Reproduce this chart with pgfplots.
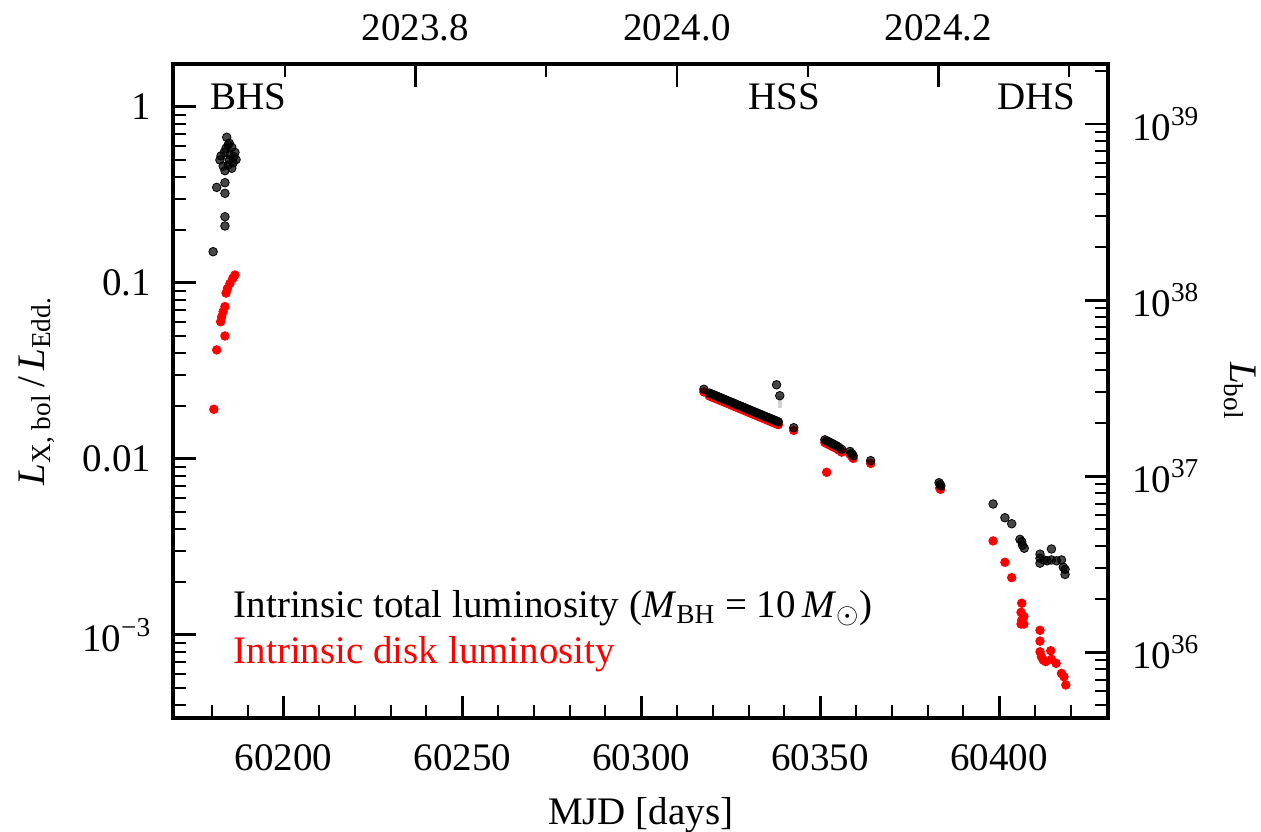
\documentclass[border=0pt]{standalone}
\usepackage{fontspec}
\setmainfont{Liberation Serif}
\usepackage{pgfplots}
\pgfplotsset{compat=1.18}

\pgfplotstableread{
x y
60180.4 0.150
60181.4 0.348
60183.7 0.322
60183.7 0.370
60183.7 0.237
60183.7 0.210
60183.7 0.433
60184.2 0.670
60184.6 0.606
60185.6 0.588
60182.6 0.525
60186.2 0.520
60182.3 0.498
60184.6 0.466
60185.6 0.447
60183.5 0.550
60185.0 0.500
60186.0 0.480
60186.5 0.550
60184.0 0.580
60185.2 0.530
60186.8 0.500
60183.2 0.460
60184.9 0.620
60317.5 0.02480
60319.0 0.02360
60319.5 0.02337
60320.0 0.02314
60320.5 0.02292
60321.0 0.02270
60321.5 0.02248
60322.0 0.02226
60322.5 0.02204
60323.0 0.02183
60323.5 0.02162
60324.0 0.02141
60324.5 0.02120
60325.0 0.02099
60325.5 0.02079
60326.0 0.02059
60326.5 0.02039
60327.0 0.02019
60327.5 0.01999
60328.0 0.01980
60328.5 0.01961
60329.0 0.01942
60329.5 0.01923
60330.0 0.01904
60330.5 0.01886
60331.0 0.01867
60331.5 0.01849
60332.0 0.01831
60332.5 0.01813
60333.0 0.01796
60333.5 0.01778
60334.0 0.01761
60334.5 0.01744
60335.0 0.01727
60335.5 0.01710
60336.0 0.01694
60336.5 0.01677
60337.0 0.01661
60337.5 0.01645
60338.0 0.01629
60338.3 0.01620
60337.8 0.0263
60338.7 0.0228
60342.6 0.0150
60351.3 0.01280
60351.8 0.01265
60352.3 0.01250
60352.8 0.01235
60353.3 0.01220
60353.8 0.01205
60354.5 0.01185
60355.2 0.01160
60356.0 0.01130
60358.3 0.01100
60358.8 0.01070
60359.2 0.01040
60364.1 0.00975
60383.2 0.00730
60383.5 0.00712
60383.7 0.00700
60398.3 0.00553
60401.6 0.00462
60403.5 0.00427
60405.8 0.00348
60406.3 0.00338
60406.5 0.00323
60407.0 0.00310
60411.4 0.00287
60411.4 0.00272
60411.4 0.00255
60412.5 0.00266
60413.4 0.00263
60414.6 0.00307
60414.6 0.00266
60416.0 0.00263
60417.4 0.00266
60417.9 0.00242
60418.4 0.00235
60418.4 0.00220
}\totaldata

\pgfplotstableread{
x y
60180.6 0.0191
60181.4 0.0415
60183.7 0.0498
60182.5 0.0600
60182.8 0.0640
60183.2 0.0685
60183.7 0.0732
60184.0 0.0873
60184.4 0.0928
60185.1 0.0990
60185.9 0.1058
60186.5 0.1106
60317.5 0.02395
60319.0 0.02277
60319.5 0.02255
60320.0 0.02233
60320.5 0.02212
60321.0 0.02191
60321.5 0.02169
60322.0 0.02148
60322.5 0.02127
60323.0 0.02107
60323.5 0.02086
60324.0 0.02066
60324.5 0.02046
60325.0 0.02026
60325.5 0.02006
60326.0 0.01987
60326.5 0.01968
60327.0 0.01948
60327.5 0.01929
60328.0 0.01911
60328.5 0.01892
60329.0 0.01874
60329.5 0.01856
60330.0 0.01837
60330.5 0.01820
60331.0 0.01802
60331.5 0.01784
60332.0 0.01767
60332.5 0.01750
60333.0 0.01733
60333.5 0.01716
60334.0 0.01699
60334.5 0.01683
60335.0 0.01667
60335.5 0.01650
60336.0 0.01635
60336.5 0.01618
60337.0 0.01603
60337.5 0.01587
60338.0 0.01572
60338.3 0.01563
60342.6 0.01448
60351.3 0.01235
60351.8 0.01221
60352.3 0.01206
60352.8 0.01192
60353.3 0.01177
60353.8 0.01163
60354.5 0.01144
60355.2 0.01119
60356.0 0.01090
60358.3 0.01062
60358.8 0.01033
60359.2 0.01004
60364.1 0.00940
60351.8 0.00837
60383.4 0.00680
60383.6 0.00670
60398.3 0.00341
60401.6 0.00258
60403.5 0.00211
60406.3 0.00151
60406.1 0.00134
60406.9 0.00127
60406.3 0.00121
60406.9 0.00115
60406.1 0.00115
60411.4 0.00106
60411.4 0.00092
60411.4 0.00080
60411.8 0.00075
60412.3 0.000718
60413.0 0.000703
60414.4 0.000811
60414.6 0.000725
60415.9 0.000688
60417.4 0.000603
60418.1 0.000577
60418.6 0.000518
}\diskdata

\begin{document}
\begin{tikzpicture}[font=\fontsize{19.5}{23}\selectfont]
\path[use as bounding box] (-86.65pt,-56.35pt) rectangle (543.85pt,359.15pt);
\begin{axis}[
  at={(0,0)}, anchor=south west,
  scale only axis, width=467.35pt, height=327.15pt,
  xmin=60169.27, xmax=60430.4,
  ymode=log, ymin=3.35e-4, ymax=1.748,
  scaled x ticks=false,
  axis line style={line width=2pt},
  xtick pos=bottom, ytick pos=left,
  tick align=inside,
  xtick={60200,60250,60300,60350,60400},
  xticklabels={60200,60250,60300,60350,60400},
  minor xtick={60180,60190,60210,60220,60230,60240,60260,60270,60280,60290,60310,60320,60330,60340,60360,60370,60380,60390,60410,60420,60430},
  ytick={0.001,0.01,0.1,1},
  yticklabels={10\textsuperscript{−3},0.01,0.1,1},
  minor ytick={4e-4,5e-4,6e-4,7e-4,8e-4,9e-4,2e-3,3e-3,4e-3,5e-3,6e-3,7e-3,8e-3,9e-3,0.02,0.03,0.04,0.05,0.06,0.07,0.08,0.09,0.2,0.3,0.4,0.5,0.6,0.7,0.8,0.9},
  major tick length=11.35pt, minor tick length=6.5pt,
  every major tick/.append style={line width=1.3pt, black},
  every minor tick/.append style={line width=1pt, black},
  xticklabel style={yshift=-9.5pt},
  yticklabel style={xshift=-7.5pt},
  xlabel={MJD [days]},
  xlabel style={at={(rel axis cs:0.5,-0.163)}, anchor=base},
  ylabel={\textit{L}\textsubscript{X, bol}\,/\,\textit{L}\textsubscript{Edd.}},
  ylabel style={at={(rel axis cs:-0.146,0.5)}, anchor=center},
]
\addplot[red, only marks, mark=*, mark size=2.15pt, mark options={draw=none, fill=red}] table[x=x,y=y] {\diskdata};
\addplot[gray!35, line width=2pt] coordinates {(60338.7,0.0228) (60338.7,0.0193)};
\addplot[black, only marks, mark=*, mark size=2.15pt, mark options={draw=none, fill=black, fill opacity=0.72}] table[x=x,y=y] {\totaldata};
\node[anchor=base west, inner sep=0pt] at (rel axis cs:0.0393,0.9297) {BHS};
\node[anchor=base west, inner sep=0pt] at (rel axis cs:0.6149,0.9297) {HSS};
\node[anchor=base west, inner sep=0pt] at (rel axis cs:0.8812,0.9297) {DHS};
\node[anchor=base west, inner sep=0pt] at (rel axis cs:0.0642,0.1548) {Intrinsic total luminosity (\textit{M}\textsubscript{BH} = 10\,\textit{M}\textsubscript{$\odot$})};
\node[anchor=base west, inner sep=0pt, text=red] at (rel axis cs:0.0642,0.0841) {Intrinsic disk luminosity};
\end{axis}
\begin{axis}[
  at={(0,0)}, anchor=south west,
  scale only axis, width=467.35pt, height=327.15pt,
  xmin=2023.6147, xmax=2024.3296,
  ymode=log, ymin=4.22e35, ymax=2.2e39,
  scaled x ticks=false,
  axis x line*=top, axis y line*=right,
  axis line style={line width=2pt},
  tick align=inside,
  xtick={2023.8,2024.0,2024.2},
  xticklabels={2023.8,2024.0,2024.2},
  minor xtick={2023.7,2023.9,2024.1,2024.3},
  ytick={1e36,1e37,1e38,1e39},
  yticklabels={10\textsuperscript{36},10\textsuperscript{37},10\textsuperscript{38},10\textsuperscript{39}},
  minor ytick={5e35,6e35,7e35,8e35,9e35,2e36,3e36,4e36,5e36,6e36,7e36,8e36,9e36,2e37,3e37,4e37,5e37,6e37,7e37,8e37,9e37,2e38,3e38,4e38,5e38,6e38,7e38,8e38,9e38,2e39},
  major tick length=11.35pt, minor tick length=6.5pt,
  every major tick/.append style={line width=1.3pt, black},
  every minor tick/.append style={line width=1pt, black},
  xticklabel style={yshift=7.7pt},
  yticklabel style={xshift=8.5pt},
  ylabel={\textit{L}\textsubscript{bol}},
  ylabel style={at={(rel axis cs:1.141,0.5)}, anchor=center, rotate=180},
]
\end{axis}
\end{tikzpicture}
\end{document}
